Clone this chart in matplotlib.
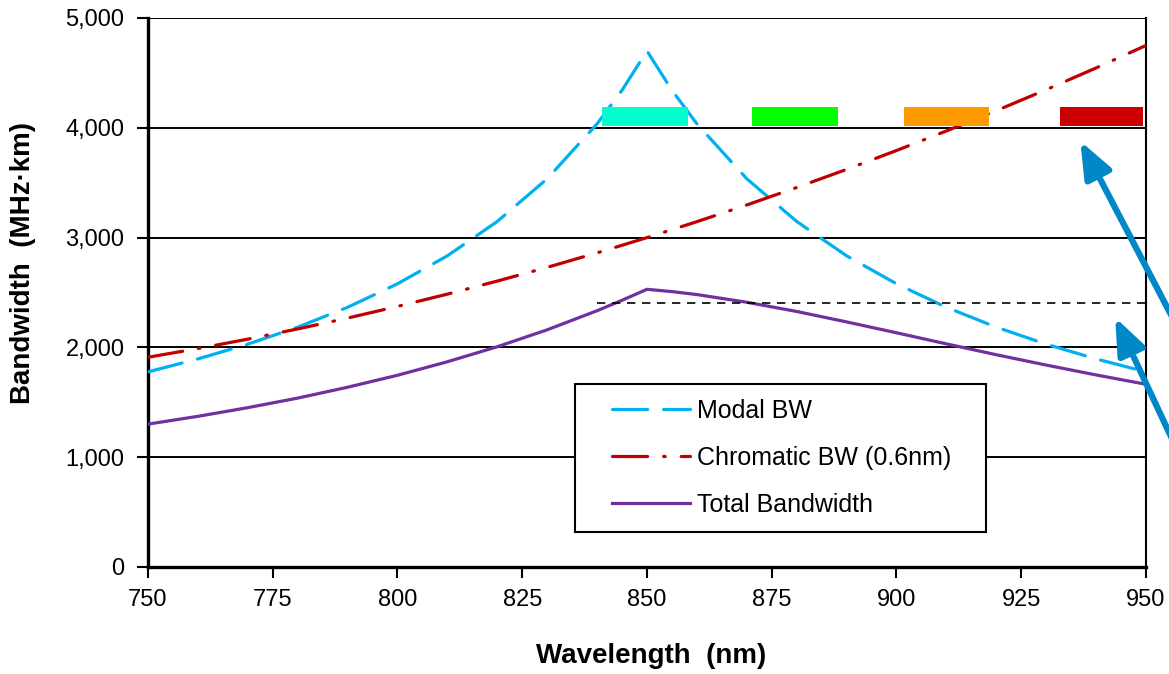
import matplotlib
matplotlib.use("Agg")
import matplotlib.pyplot as plt
from matplotlib.patches import Rectangle
from matplotlib.ticker import StrMethodFormatter

plt.rcParams['font.family'] = ['Liberation Sans', 'DejaVu Sans']

# wavelength (nm)
wavelength = [750, 760, 770, 780, 790, 800, 810, 820, 830, 840, 845, 850,
              855, 860, 870, 880, 890, 900, 910, 920, 930, 940, 950]
# bandwidth (MHz*km)
modal_bw = [1777, 1895, 2029, 2184, 2365, 2579, 2834, 3147, 3536, 4036, 4342, 4700,
            4342, 4036, 3536, 3147, 2834, 2579, 2365, 2184, 2029, 1895, 1777]
chromatic_bw = [1910, 1989, 2075, 2168, 2267, 2373, 2485, 2604, 2729, 2861, 2930, 3000,
                3072, 3145, 3297, 3456, 3621, 3793, 3971, 4156, 4347, 4545, 4750]
total_bw = [1301, 1372, 1451, 1538, 1637, 1746, 1869, 2006, 2160, 2334, 2429, 2529,
            2508, 2481, 2411, 2327, 2232, 2133, 2032, 1933, 1839, 1749, 1664]

# target line
target_x = [840, 950]
target_bw = [2400, 2400]

# channel bars
band_start = [841, 871, 901.5, 932.7]
band_end = [858.3, 888.2, 918.5, 949.4]
band_colors = ['#00ffcc', '#00ff00', '#ff9900', '#cc0000']
band_low, band_high = 4020, 4185

fig = plt.figure(figsize=(11.69, 6.74), dpi=100)
ax = fig.add_axes([0.1266, 0.1588, 0.8537, 0.8145])

ax.plot(wavelength, modal_bw, color='#00b0f0', lw=2.3, dashes=(11, 5),
        dash_capstyle='round', label='Modal BW', zorder=3)
ax.plot(wavelength, chromatic_bw, color='#c00000', lw=2.3, dashes=(11, 5, 0.5, 5),
        dash_capstyle='round', label='Chromatic BW (0.6nm)', zorder=3)
ax.plot(wavelength, total_bw, color='#7030a0', lw=2.3, label='Total Bandwidth', zorder=3)
ax.plot(target_x, target_bw, color='black', lw=1.2, dashes=(5, 4), zorder=3)

widths = [e - s for s, e in zip(band_start, band_end)]
ax.bar(band_start, band_high - band_low, width=widths, bottom=band_low,
       align='edge', color=band_colors, zorder=4)

# arrows coming in from the right
arrow_style = dict(arrowstyle='-|>,head_length=0.5,head_width=0.2',
                   mutation_scale=44, lw=4.5, color='#0087c8')
ax.annotate('', xy=(936.6, 3900), xytext=(959, 1950), annotation_clip=False,
            arrowprops=arrow_style, zorder=5)
ax.annotate('', xy=(943.6, 2295), xytext=(959, 800), annotation_clip=False,
            arrowprops=arrow_style, zorder=5)

ax.set_xlim(750, 950)
ax.set_ylim(0, 5000)
ax.set_xticks(range(750, 951, 25))
ax.set_yticks(range(0, 5001, 1000))
ax.yaxis.set_major_formatter(StrMethodFormatter('{x:,.0f}'))
ax.tick_params(labelsize=17, width=1.5, length=8, color='black', direction='out')
ax.tick_params(axis='x', pad=8)
ax.tick_params(axis='y', pad=9)

ax.grid(axis='y', color='black', lw=1.4)
ax.set_axisbelow(True)
ax.spines['top'].set_visible(False)
ax.spines['left'].set_linewidth(2.4)
ax.spines['bottom'].set_linewidth(2.4)
ax.spines['right'].set_linewidth(1.5)

ax.set_xlabel('Wavelength  (nm)', fontsize=20, fontweight='bold')
ax.xaxis.set_label_coords(0.504, -0.138)
ax.set_ylabel('Bandwidth  (MHz·km)', fontsize=20, fontweight='bold')
ax.yaxis.set_label_coords(-0.112, 0.554)

# legend box drawn separately so the padding can match
ax.add_patch(Rectangle((0.4279, 0.0638), 0.4118, 0.2695, transform=ax.transAxes,
                       facecolor='white', edgecolor='black', lw=1.5, zorder=5))
leg = ax.legend(loc='upper left', bbox_to_anchor=(0.465, 0.306), fontsize=18,
                frameon=False, handlelength=3.1, handletextpad=0.28,
                labelspacing=0.92, borderpad=0, borderaxespad=0)
leg.set_zorder(6)

fig.savefig('out.png', dpi=100)
